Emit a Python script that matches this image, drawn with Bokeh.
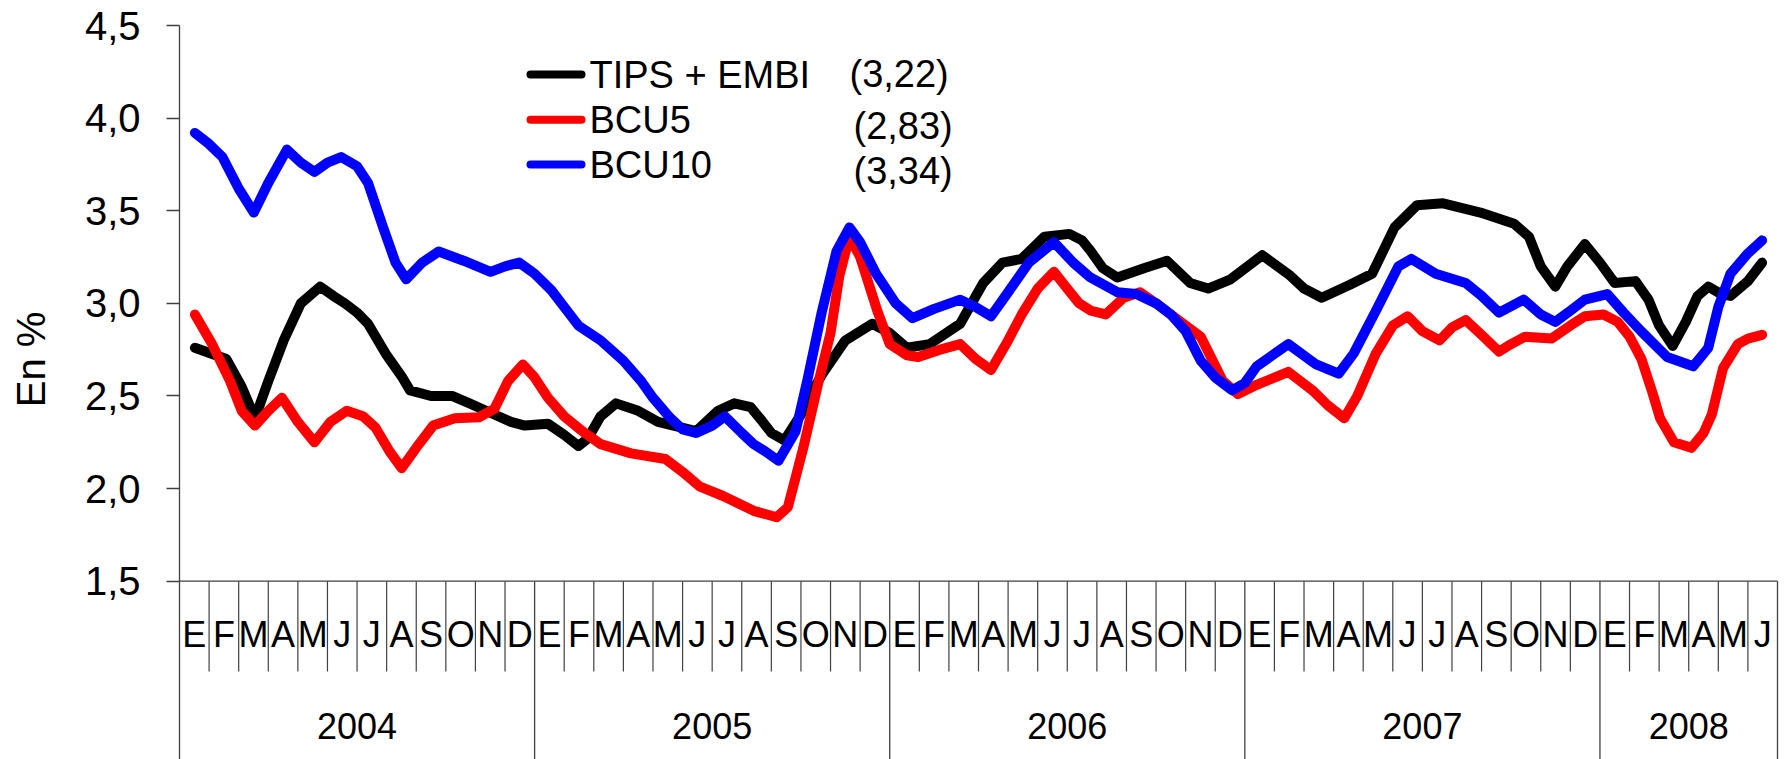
from bokeh.plotting import figure
from bokeh.models import Range1d, FixedTicker, CustomJSTickFormatter, LinearAxis
from bokeh.core.properties import value
from bokeh.embed import file_html
from bokeh.resources import INLINE
import math

# ---------------- data ----------------
month_letters = ["E", "F", "M", "A", "M", "J", "J", "A", "S", "O", "N", "D"]
years = ["2004", "2005", "2006", "2007", "2008"]
months_per_year = [12, 12, 12, 12, 6]

series_names = ["TIPS + EMBI", "BCU5", "BCU10"]
last_values = ["(3,22)", "(2,83)", "(3,34)"]
series_colors = ["#000000", "#ff0000", "#0000ff"]
y_title = "En %"

# x = months elapsed since 1 Jan 2004
tips_x = [0.52, 1.58, 2.1, 2.55, 3.0, 3.52, 4.1, 4.75, 5.2, 5.59, 6.0, 6.37, 7.0, 7.53, 7.79, 8.5, 9.21,
          9.8, 10.64, 11.2, 11.67, 12.45, 13.0, 13.48, 13.8, 14.23, 14.75, 15.5, 16.17, 17.46, 18.2, 18.75,
          19.3, 19.66, 20.0, 20.44, 21.0, 21.47, 21.73, 22.5, 23.41, 24.0, 24.58, 25.35, 26.38, 27.16,
          27.81, 28.46, 29.23, 30.07, 30.5, 30.78, 31.2, 31.69, 32.59, 33.37, 34.15, 34.76, 35.52, 36.59,
          37.53, 38.0, 38.6, 39.55, 40.3, 41.06, 41.82, 42.7, 43.96, 45.1, 45.6, 46.0, 46.49, 46.9, 47.49,
          48.0, 48.5, 49.2, 49.64, 50.0, 50.46, 50.9, 51.3, 51.66, 52.1, 52.41, 53.0, 53.48]
tips_y = [2.76, 2.70, 2.55, 2.38, 2.58, 2.80, 3.00, 3.09, 3.04, 3.00, 2.95, 2.89, 2.72, 2.60, 2.53, 2.50, 2.50,
          2.46, 2.40, 2.36, 2.34, 2.35, 2.29, 2.23, 2.27, 2.39, 2.46, 2.42, 2.36, 2.31, 2.42, 2.46,
          2.44, 2.37, 2.30, 2.26, 2.40, 2.55, 2.62, 2.80, 2.89, 2.84, 2.76, 2.78, 2.89, 3.11,
          3.22, 3.24, 3.36, 3.375, 3.34, 3.285, 3.19, 3.14, 3.19, 3.23, 3.11, 3.08, 3.13, 3.26,
          3.15, 3.08, 3.03, 3.10, 3.16, 3.41, 3.53, 3.54, 3.49, 3.43, 3.36, 3.20, 3.09, 3.20, 3.32,
          3.22, 3.11, 3.12, 3.02, 2.88, 2.77, 2.90, 3.04, 3.09, 3.05, 3.04, 3.12, 3.22]

bcu5_x = [0.52, 1.1, 1.71, 2.1, 2.55, 3.0, 3.46, 4.0, 4.56, 5.1, 5.65, 6.2, 6.62, 7.1, 7.51, 8.0, 8.57, 9.3,
          10.12, 10.64, 11.1, 11.6, 12.0, 12.45, 13.0, 13.61, 14.23, 15.26, 16.42, 17.0, 17.59, 18.37,
          19.4, 20.18, 20.56, 21.08, 21.6, 22.0, 22.3, 22.64, 23.0, 23.2, 23.6, 24.0, 24.58, 24.96, 25.7,
          26.38, 26.9, 27.42, 28.0, 28.46, 29.0, 29.55, 30.0, 30.4, 30.8, 31.3, 31.9, 32.46, 33.0, 33.5,
          34.0, 34.51, 35.26, 35.77, 36.4, 37.47, 38.29, 38.8, 39.36, 39.8, 40.43, 41.0, 41.5, 42.0,
          42.58, 43.0, 43.46, 44.0, 44.59, 45.0, 45.47, 46.36, 47.0, 47.49, 48.12, 48.6, 49.0, 49.4,
          49.77, 50.03, 50.5, 51.09, 51.5, 51.78, 52.16, 52.66, 53.0, 53.48]
bcu5_y = [2.94, 2.78, 2.58, 2.42, 2.34, 2.42, 2.49, 2.36, 2.25, 2.36, 2.42, 2.39, 2.33, 2.20, 2.11, 2.22, 2.34, 2.38,
          2.385, 2.43, 2.58, 2.67, 2.60, 2.49, 2.39, 2.31, 2.24, 2.19, 2.16, 2.09, 2.01, 1.96,
          1.88, 1.845, 1.90, 2.22, 2.58, 2.84, 3.15, 3.36, 3.25, 3.15, 2.95, 2.78, 2.72, 2.71, 2.75,
          2.78, 2.70, 2.64, 2.80, 2.94, 3.08, 3.17, 3.08, 3.00, 2.96, 2.94, 3.03, 3.06, 3.00, 2.94,
          2.88, 2.82, 2.58, 2.51, 2.56, 2.63, 2.53, 2.45, 2.38, 2.50, 2.73, 2.88, 2.93, 2.85,
          2.80, 2.87, 2.91, 2.83, 2.74, 2.78, 2.82, 2.81, 2.88, 2.93, 2.94, 2.90, 2.82, 2.70,
          2.52, 2.38, 2.25, 2.22, 2.30, 2.40, 2.65, 2.78, 2.81, 2.83]

bcu10_x = [0.52, 1.0, 1.45, 2.0, 2.51, 3.0, 3.63, 4.1, 4.56, 5.0, 5.46, 6.0, 6.37, 6.88, 7.3, 7.66, 8.2, 8.76,
           9.6, 10.51, 11.0, 11.48, 12.0, 12.57, 13.0, 13.48, 14.23, 15.0, 15.6, 16.0, 16.56, 17.0, 17.46,
           18.0, 18.43, 19.0, 19.4, 19.8, 20.24, 20.82, 21.21, 21.7, 22.2, 22.64, 23.0, 23.54, 24.2, 24.77,
           25.5, 26.38, 26.9, 27.42, 28.0, 28.7, 29.55, 30.2, 30.78, 31.69, 32.33, 33.0, 33.5, 34.0, 34.51,
           35.0, 35.57, 36.0, 36.4, 37.47, 38.41, 39.17, 39.68, 40.43, 41.19, 41.63, 42.45, 43.46, 44.0,
           44.59, 45.42, 46.0, 46.49, 47.0, 47.49, 48.25, 48.8, 49.39, 50.27, 51.15, 51.66, 52.0, 52.41,
           53.0, 53.48]
bcu10_y = [3.92, 3.86, 3.79, 3.62, 3.49, 3.65, 3.83, 3.76, 3.71, 3.76, 3.79, 3.74, 3.65, 3.41, 3.22, 3.13, 3.22, 3.28,
           3.23, 3.17, 3.20, 3.22, 3.16, 3.07, 2.98, 2.88, 2.80, 2.69, 2.58, 2.49, 2.385, 2.32, 2.30,
           2.34, 2.39, 2.30, 2.24, 2.20, 2.15, 2.31, 2.58, 2.95, 3.28, 3.41, 3.33, 3.16, 3.00, 2.92,
           2.97, 3.02, 2.98, 2.93, 3.06, 3.22, 3.33, 3.22, 3.14, 3.06, 3.05, 3.00, 2.94, 2.85, 2.69,
           2.60, 2.53, 2.57, 2.66, 2.78, 2.67, 2.62, 2.73, 2.96, 3.20, 3.24, 3.16, 3.11, 3.04,
           2.95, 3.02, 2.94, 2.90, 2.96, 3.02, 3.05, 2.95, 2.85, 2.71, 2.66, 2.76, 2.98, 3.16,
           3.27, 3.34]

y_ticks = [1.5, 2.0, 2.5, 3.0, 3.5, 4.0, 4.5]

# ---------------- layout (canvas pixels) ----------------
FONT = "Liberation Sans"
W, H = 1785, 759
AXIS_PX = 179          # canvas x of the value axis
RIGHT_PX = 1777        # canvas x of the end of the time axis
TOP_PX = 25            # canvas y of the 4,5 level
BASE_PX = 580.7        # canvas y of the 1,5 level
n_months = sum(months_per_year)
MW = (RIGHT_PX - AXIS_PX) / n_months
PX = (BASE_PX - TOP_PX) / (y_ticks[-1] - y_ticks[0])
y_top = y_ticks[-1] + TOP_PX / PX
y_bot = y_top - H / PX
x_left = -AXIS_PX / MW
x_right = n_months + (W - RIGHT_PX) / MW


def ycan(c):
    return y_top - c / PX


def xcan(c):
    return (c - AXIS_PX) / MW


p = figure(width=W, height=H, output_backend="svg", toolbar_location=None,
           x_range=Range1d(x_left, x_right), y_range=Range1d(y_bot, y_top),
           x_axis_location=None, y_axis_location=None)
p.min_border = 0
p.outline_line_color = None
p.grid.visible = False
p.background_fill_color = "white"
p.border_fill_color = "white"

AXC = "#404040"
ax = LinearAxis(fixed_location=0)
ax.bounds = (y_ticks[0], y_ticks[-1])
ax.ticker = FixedTicker(ticks=y_ticks)
ax.formatter = CustomJSTickFormatter(code="return tick.toFixed(1).replace('.', ',');")
ax.major_tick_out = 13
ax.major_tick_in = 0
ax.minor_tick_out = 0
ax.minor_tick_in = 0
ax.axis_line_color = AXC
ax.axis_line_width = 1.3
ax.major_tick_line_color = AXC
ax.major_tick_line_width = 1.3
ax.major_label_text_font = FONT
ax.major_label_text_font_size = "40px"
ax.major_label_text_color = "black"
ax.major_label_standoff = 26
p.add_layout(ax, "left")

# y title
p.text(x=[xcan(30)], y=[ycan(359)], text=[y_title], angle=math.pi / 2,
       text_font=value(FONT), text_font_size="40px", text_align="center",
       text_baseline="middle", text_color="black")

# horizontal axis line
p.segment(x0=[0], y0=[y_ticks[0]], x1=[n_months], y1=[y_ticks[0]], line_color=AXC, line_width=1.3)

# month separators and labels
month_lab_x, month_lab_t, sep_x = [], [], []
year_sep = [0]
year_mid = []
k = 0
for yr, nm in zip(years, months_per_year):
    year_mid.append(k + nm / 2)
    for m in range(nm):
        month_lab_x.append(k + m + 0.5)
        month_lab_t.append(month_letters[m])
        if m > 0:
            sep_x.append(k + m)
    k += nm
    year_sep.append(k)

p.segment(x0=sep_x, y0=[y_ticks[0]] * len(sep_x), x1=sep_x, y1=[ycan(671)] * len(sep_x),
          line_color=AXC, line_width=1.2)
p.segment(x0=year_sep, y0=[y_ticks[0]] * len(year_sep), x1=year_sep, y1=[y_bot] * len(year_sep),
          line_color=AXC, line_width=1.3)
p.text(x=month_lab_x, y=[ycan(634)] * len(month_lab_x), text=month_lab_t,
       text_font=value(FONT), text_font_size="36px", text_align="center", text_baseline="middle",
       text_color="black")
p.text(x=year_mid, y=[ycan(725)] * len(year_mid), text=years,
       text_font=value(FONT), text_font_size="36px", text_align="center", text_baseline="middle",
       text_color="black")

# series
for xs, ys, c in zip([tips_x, bcu5_x, bcu10_x], [tips_y, bcu5_y, bcu10_y], series_colors):
    p.line(xs, ys, line_color=c, line_width=10, line_join="round", line_cap="round")

# legend (drawn manually: key line, name, last value)
leg_rows = [74, 119.3, 164]
val_rows = [73.3, 125, 170]
val_x = [849, 853, 853]
for i, (name, val, c) in enumerate(zip(series_names, last_values, series_colors)):
    yy = ycan(leg_rows[i])
    p.segment(x0=[xcan(530)], y0=[yy], x1=[xcan(581)], y1=[yy], line_color=c, line_width=8,
              line_cap="round")
    p.text(x=[xcan(589)], y=[yy], text=[name], text_font=value(FONT), text_font_size="38px",
           text_align="left", text_baseline="middle", text_color="black")
    p.text(x=[xcan(val_x[i])], y=[ycan(val_rows[i])], text=[val], text_font=value(FONT),
           text_font_size="38px", text_align="left", text_baseline="middle", text_color="black")

open("out.html", "w").write(file_html(p, INLINE))
